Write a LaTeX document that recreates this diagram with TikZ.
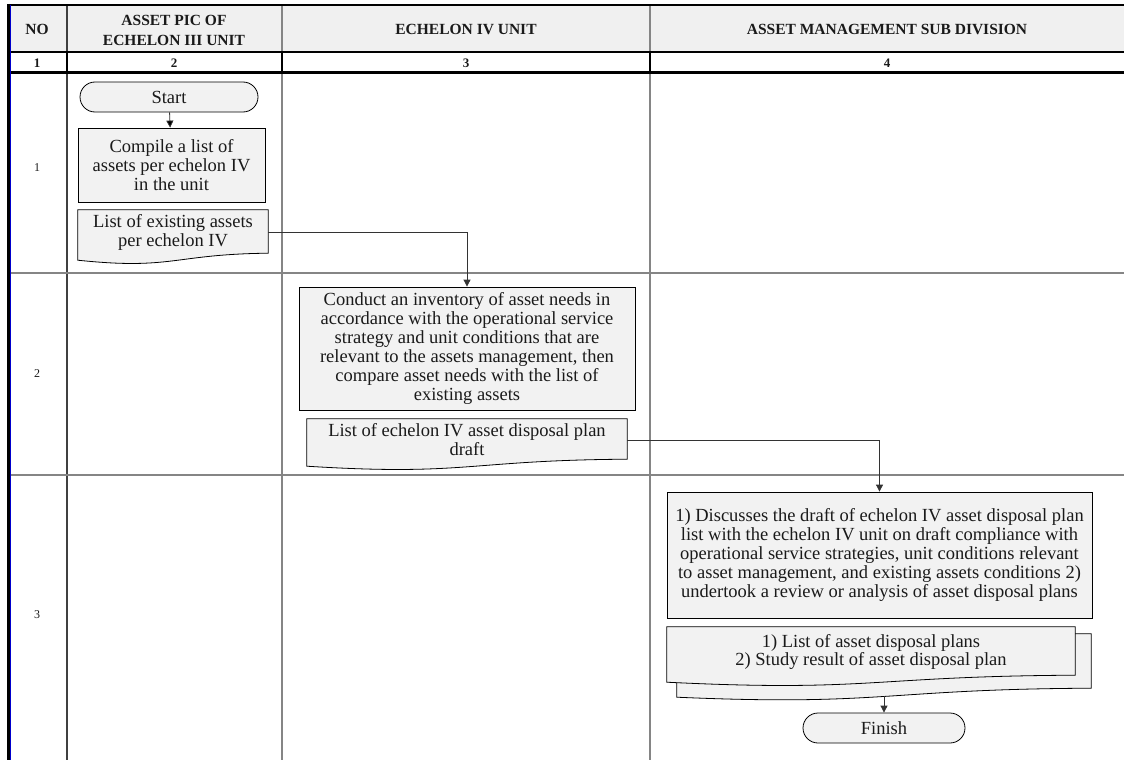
\documentclass[tikz,border=0pt]{standalone}
\usepackage{fontspec}
\setmainfont{Liberation Serif}
\usepackage{xcolor}
\usetikzlibrary{arrows.meta,shapes.misc,calc,backgrounds}
\definecolor{boxgray}{HTML}{F2F2F2}
\definecolor{headgray}{HTML}{F0F0F0}
\definecolor{gridgray}{HTML}{858585}
\definecolor{textdark}{HTML}{1A1A1A}
\newcommand{\bodyfont}{\fontsize{18.5}{18.9}\selectfont}
\newcommand{\headfont}{\fontsize{15.5}{20}\selectfont\bfseries}
% document outline with a wavy bottom edge
\newcommand{\docpath}[1]{(#1.north west) -- (#1.north east) -- ($(#1.south east)+(0,-2)$)
  .. controls ($(#1.south)+(0,-1)$) and ($(#1.south)+(0,15)$) .. ($(#1.south west)+(0,5)$) -- cycle}

\begin{document}
\begin{tikzpicture}[x=1pt, y=-1pt,
    box/.style={draw=black, fill=boxgray, line width=0.8pt, align=center, inner sep=2pt,
      text=textdark, font=\bodyfont},
    doc/.style={align=center, inner sep=2pt, text=textdark, font=\bodyfont},
    docline/.style={draw=black, fill=boxgray, line width=0.8pt},
    terminal/.style={box, rounded rectangle},
    arr/.style={draw=black!80, line width=0.8pt, -{Triangle[length=7pt, width=7pt]}},
    head/.style={align=center, text=textdark, font=\headfont},
    rowno/.style={text=textdark, font=\fontsize{12}{14}\selectfont}]
  \useasboundingbox (0,0) rectangle (1124,760);
  % Table
  \fill[headgray] (8,5) rectangle (1124,52.5);
  \draw[black!75, line width=1.5pt] (67,5) -- (67,760);
  \draw[gridgray, line width=1.3pt] (282,5) -- (282,760) (650,5) -- (650,760);
  \draw[black, line width=1.5pt] (67,52.5) -- (67,72.5) (282,52.5) -- (282,72.5) (650,52.5) -- (650,72.5);
  \draw[gridgray, line width=1.3pt] (8,273) -- (1124,273) (8,475) -- (1124,475);
  \draw[black, line width=2.5pt] (8,5) -- (1124,5);
  \draw[black, line width=2pt] (8,52.5) -- (1124,52.5);
  \draw[black, line width=2.5pt] (8,72.5) -- (1124,72.5);
  \draw[black, line width=3pt] (8,4) -- (8,760);
  \draw[blue!80!black, line width=0.8pt] (9.9,5) -- (9.9,760);
  % Header
  \node[head] (hno) at (37,29) {NO};
  \node[head] (hpic) at (174,30) {ASSET PIC OF\\ECHELON III UNIT};
  \node[head] (hunit) at (466,29) {ECHELON IV UNIT};
  \node[head] (hsub) at (887,29) {ASSET MANAGEMENT SUB DIVISION};
  \foreach \n/\x in {1/37, 2/174, 3/466, 4/887}
    \node[head, font=\fontsize{13}{15}\selectfont\bfseries] (col\n) at (\x,63) {\n};
  \node[rowno] (row1) at (37,168) {1};
  \node[rowno] (row2) at (37,374) {2};
  \node[rowno] (row3) at (37,615) {3};
  % Nodes
  \node[terminal, minimum width=182pt, minimum height=30pt] (start) at (169,97) {Start};
  \node[box, minimum width=187pt, minimum height=74pt] (compile) at (171.5,165)
    {Compile a list of\\assets per echelon IV\\in the unit};
  \node[doc, minimum width=190pt, minimum height=45pt] (existing) at (173,232.5)
    {List of existing assets\\per echelon IV};
  \node[box, minimum width=336pt, minimum height=123pt] (conduct) at (467,348.5)
    {Conduct an inventory of asset needs in\\accordance with the operational service\\strategy and unit conditions that are\\relevant to the assets management, then\\compare asset needs with the list of\\existing assets};
  \node[doc, minimum width=320pt, minimum height=42pt] (draft) at (467,440)
    {List of echelon IV asset disposal plan\\draft};
  \node[box, minimum width=425pt, minimum height=126pt] (discuss) at (879.5,555)
    {1) Discusses the draft of echelon IV asset disposal plan\\list with the echelon IV unit on draft compliance with\\operational service strategies, unit conditions relevant\\to asset management, and existing assets conditions 2)\\undertook a review or analysis of asset disposal plans};
  \node[doc, minimum width=408pt, minimum height=50pt] (plans) at (871,652)
    {1) List of asset disposal plans\\2) Study result of asset disposal plan};
  \node[terminal, minimum width=166pt, minimum height=30pt] (finish) at (884,728) {Finish};
  \coordinate (plansend) at (884,696);
  % Document outlines
  \begin{scope}[on background layer]
    \path[docline] \docpath{existing};
    \path[docline] \docpath{draft};
    \path[docline] ($(plans.north west)+(10,7)$) -- ($(plans.north east)+(16,7)$)
      -- ($(plans.south east)+(16,11)$)
      .. controls ($(plans.south)+(13,12)$) and ($(plans.south)+(13,29)$) .. ($(plans.south west)+(10,20)$) -- cycle;
    \path[docline] \docpath{plans};
  \end{scope}
  % Arrows
  \path[arr] (start) edge (compile);
  \draw[arr] (existing.east) -| (conduct.north);
  \draw[arr] (draft.east) -| (discuss.north);
  \draw[arr] (plansend) -- (finish.north);
\end{tikzpicture}
\end{document}
